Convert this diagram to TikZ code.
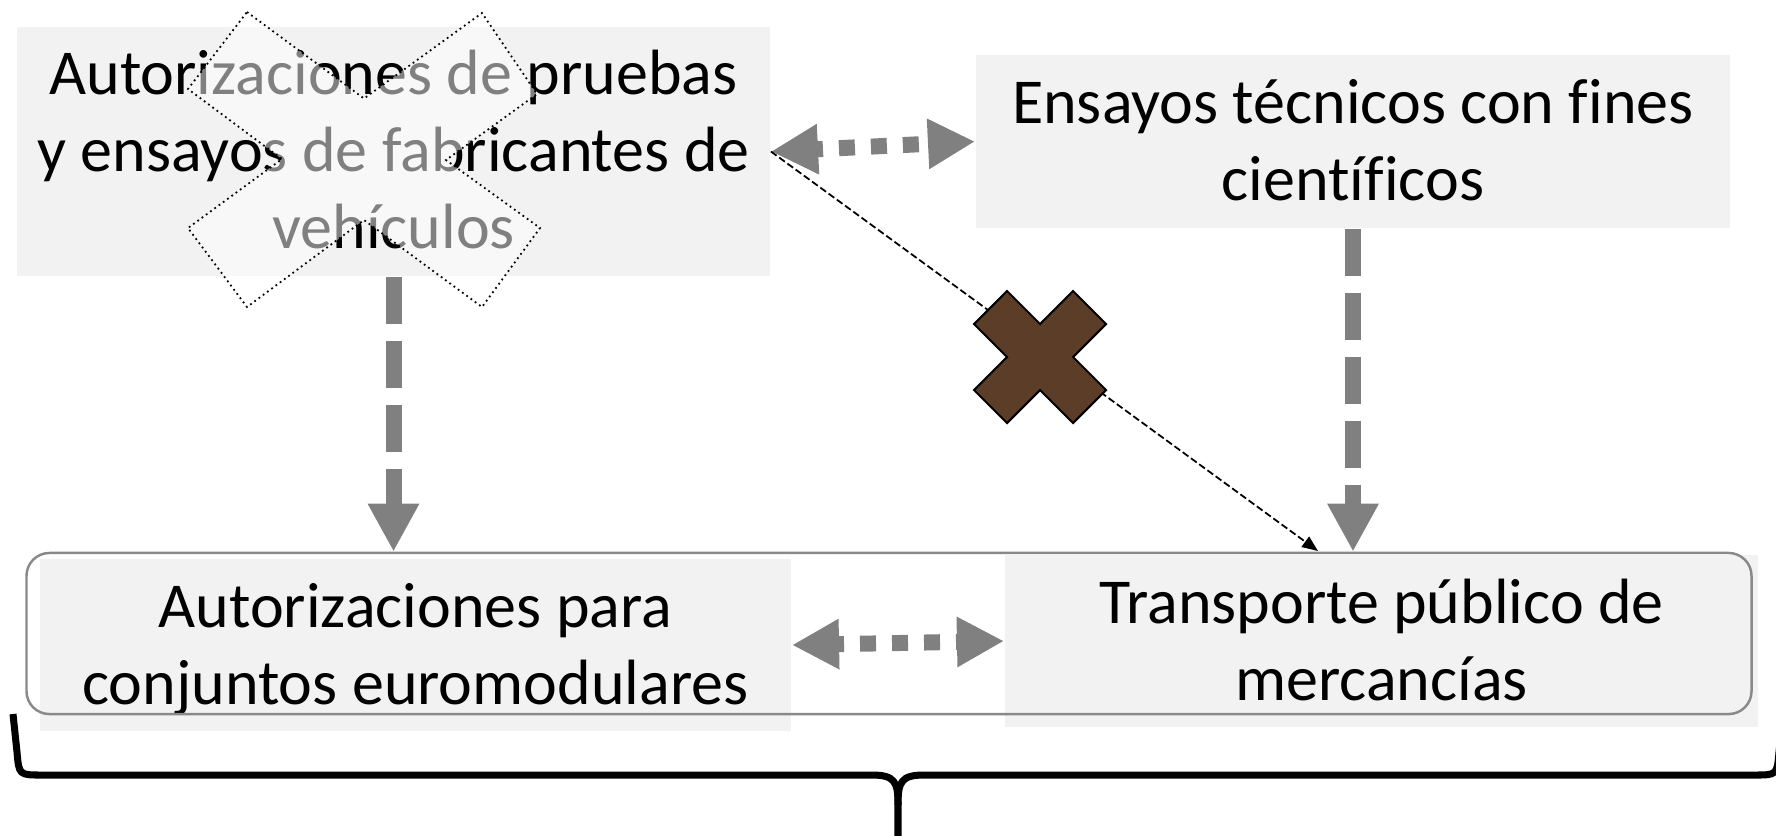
\documentclass[tikz,border=0pt]{standalone}
\usepackage{fontspec}
\setmainfont{Carlito}[Ligatures=NoCommon]
\usepackage{tikz}
\usetikzlibrary{arrows.meta}

\definecolor{cajagris}{RGB}{242,242,242}
\definecolor{flechagris}{RGB}{128,128,128}
\definecolor{bordegris}{RGB}{137,137,137}
\definecolor{marron}{RGB}{92,61,40}

\begin{document}
\begin{tikzpicture}[x=0.01cm, y=-0.01cm,
  caja/.style={fill=cajagris, inner sep=0pt, align=center, text depth=0pt,
    font=\fontsize{18.2pt}{21.9pt}\selectfont},
  flecha/.style={draw=flechagris, line width=4.55pt,
    dash pattern=on 13.4pt off 4.8pt,
    -{Triangle[length=13.7pt,width=13.7pt]}},
  flechadoble/.style={draw=flechagris, line width=4.55pt,
    dash pattern=on 4.55pt off 4.55pt, dash phase=2.3pt,
    {Triangle[length=13.4pt,width=13.4pt]}-{Triangle[length=13.4pt,width=13.4pt]}}]
  \clip (0,0) rectangle (1776,835);

  % cajas
  \node[caja, minimum width=7.53cm, minimum height=2.49cm, text height=54.9pt]
  (pruebas) at (393.5,151.5) {Autorizaciones de pruebas\\y ensayos de fabricantes de\\vehículos};
  \node[caja, minimum width=7.54cm, minimum height=1.73cm, text height=33.3pt]
  (ensayos) at (1353,141.5) {Ensayos técnicos con fines\\científicos};
  \node[caja, minimum width=7.51cm, minimum height=1.72cm, text height=34.1pt]
  (euromod) at (415.5,645) {Autorizaciones para\\conjuntos euromodulares};
  \node[caja, minimum width=7.53cm, minimum height=1.72cm, text height=33.6pt]
  (transporte) at (1381.5,641) {Transporte público de\\mercancías};

  \node[draw=bordegris, line width=0.7pt, rounded corners=6.5pt,
  minimum width=17.24cm, minimum height=1.61cm] (marco) at (889,633.5) {};

  % flechas
  \draw[flecha] (pruebas.south) -- (pruebas.south |- marco.north);
  \draw[flecha] (ensayos.south) -- (ensayos.south |- marco.north);
  \draw[flechadoble] (pruebas.east) -- (ensayos.west);
  \draw[flechadoble] (euromod.east) -- (transporte.west);

  \coordinate (llegada) at (1318,551);
  \draw[black, line width=0.5pt, dash pattern=on 2pt off 0.9pt,
  -{Triangle[length=4.5pt,width=3.6pt]}] (pruebas.east) -- (llegada);

  % cruces
  \filldraw[fill=white, fill opacity=0.5, draw=black, densely dotted, line width=0.5pt]
  (247,12) -- (364,98.5) -- (482,13) -- (537,94) -- (446,160) -- (540,228) --
  (482,307) -- (364,220) -- (247,307) -- (188,228) -- (282,159) -- (188,89) -- cycle;

  \filldraw[fill=marron, draw=black, line width=0.6pt, shift={(1040,357)}]
  (-33,-66) -- (0,-33) -- (33,-66) -- (66,-33) -- (33,0) -- (66,33) --
  (33,66) -- (0,33) -- (-33,66) -- (-66,33) -- (-33,0) -- (-66,-33) -- cycle;

  % llave
  \draw[line width=2pt]
  (13,714) -- (17,752) .. controls (19,775) .. (42,775) -- (872,775)
  .. controls (895,775) and (898,782) .. (898,805) -- (898,840);
  \draw[line width=2pt]
  (1783,714) -- (1779,752) .. controls (1777,775) .. (1754,775) -- (924,775)
  .. controls (901,775) and (898,782) .. (898,805);

\end{tikzpicture}
\end{document}
